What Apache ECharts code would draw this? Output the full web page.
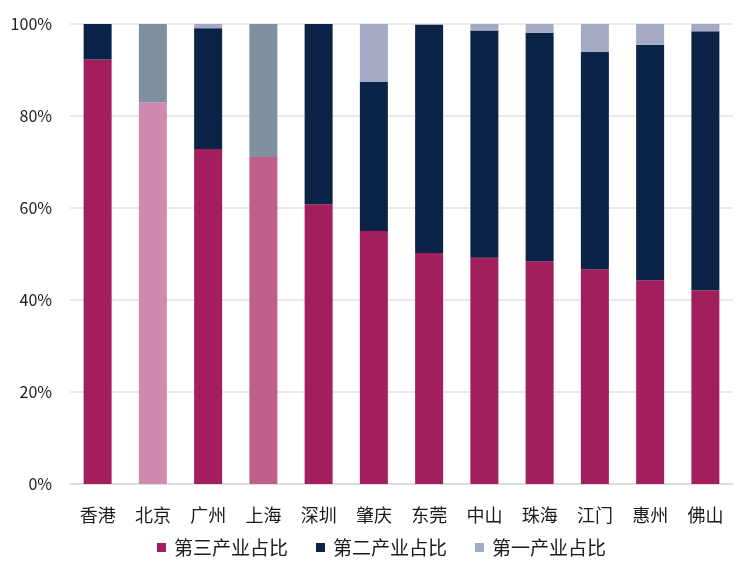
<!DOCTYPE html>
<html>
<head>
<meta charset="utf-8">
<script src="https://cdn.jsdelivr.net/npm/echarts@6/dist/echarts.min.js"></script>
<style>html,body{margin:0;padding:0;background:#fff;}#c{width:739px;height:578px;}</style>
</head>
<body>
<div id="c"></div>
<script>
const categories = ['香港','北京','广州','上海','深圳','肇庆','东莞','中山','珠海','江门','惠州','佛山'];
const tertiary  = [92.3, 83.0, 72.8, 71.1, 60.8, 55.0, 50.2, 49.2, 48.4, 46.7, 44.3, 42.1];
const secondary = [7.7, 17.0, 26.3, 28.9, 39.2, 32.4, 49.6, 49.4, 49.7, 47.2, 51.2, 56.3];
const primary   = [0.0, 0.0, 0.9, 0.0, 0.0, 12.6, 0.2, 1.4, 1.9, 6.1, 4.5, 1.6];
const seriesNames = ['第三产业占比','第二产业占比','第一产业占比'];
const yTicks = ['0%','20%','40%','60%','80%','100%'];

const baseColors = ['#A21E5D', '#0B2347', '#A4A9C4'];
const specialColors = {
  '北京': ['#CE8BAD', '#7F90A3', '#7F90A3'],
  '上海': ['#BE6089', '#7F90A3', '#7F90A3']
};

function build(values, idx) {
  return values.map((v, i) => {
    const sc = specialColors[categories[i]];
    return sc ? { value: v, itemStyle: { color: sc[idx] } } : v;
  });
}

const chart = echarts.init(document.getElementById('c'));
const font = "'Noto Sans CJK SC', 'Noto Sans', sans-serif";
chart.setOption({
  animation: false,
  textStyle: { fontFamily: font },
  grid: { left: 70, right: 6, top: 24, bottom: 94 },
  legend: {
    bottom: 16,
    left: 152,
    itemWidth: 9,
    itemHeight: 9,
    itemGap: 28,
    icon: 'rect',
    textStyle: { fontSize: 19, color: '#1a1a1a', fontFamily: font, padding: [0, 0, 0, 3] },
    data: seriesNames
  },
  xAxis: {
    type: 'category',
    data: categories,
    axisLine: { lineStyle: { color: '#d9d9d9', width: 1.5 } },
    axisTick: { show: false },
    axisLabel: { fontSize: 18, color: '#1a1a1a', margin: 22, fontFamily: font }
  },
  yAxis: {
    type: 'value',
    min: 0, max: 100, interval: 20,
    axisLabel: {
      fontSize: 16, color: '#1a1a1a', margin: 18,
      formatter: v => yTicks[Math.round(v / 20)]
    },
    splitLine: { lineStyle: { color: '#e3e3e3', width: 1.5 } },
    axisLine: { show: false },
    axisTick: { show: false }
  },
  series: [
    { name: seriesNames[0], type: 'bar', stack: 'a', barWidth: 28, itemStyle: { color: baseColors[0] }, data: build(tertiary, 0) },
    { name: seriesNames[1], type: 'bar', stack: 'a', barWidth: 28, itemStyle: { color: baseColors[1] }, data: build(secondary, 1) },
    { name: seriesNames[2], type: 'bar', stack: 'a', barWidth: 28, itemStyle: { color: baseColors[2] }, data: build(primary, 2) }
  ]
});
</script>
</body>
</html>
